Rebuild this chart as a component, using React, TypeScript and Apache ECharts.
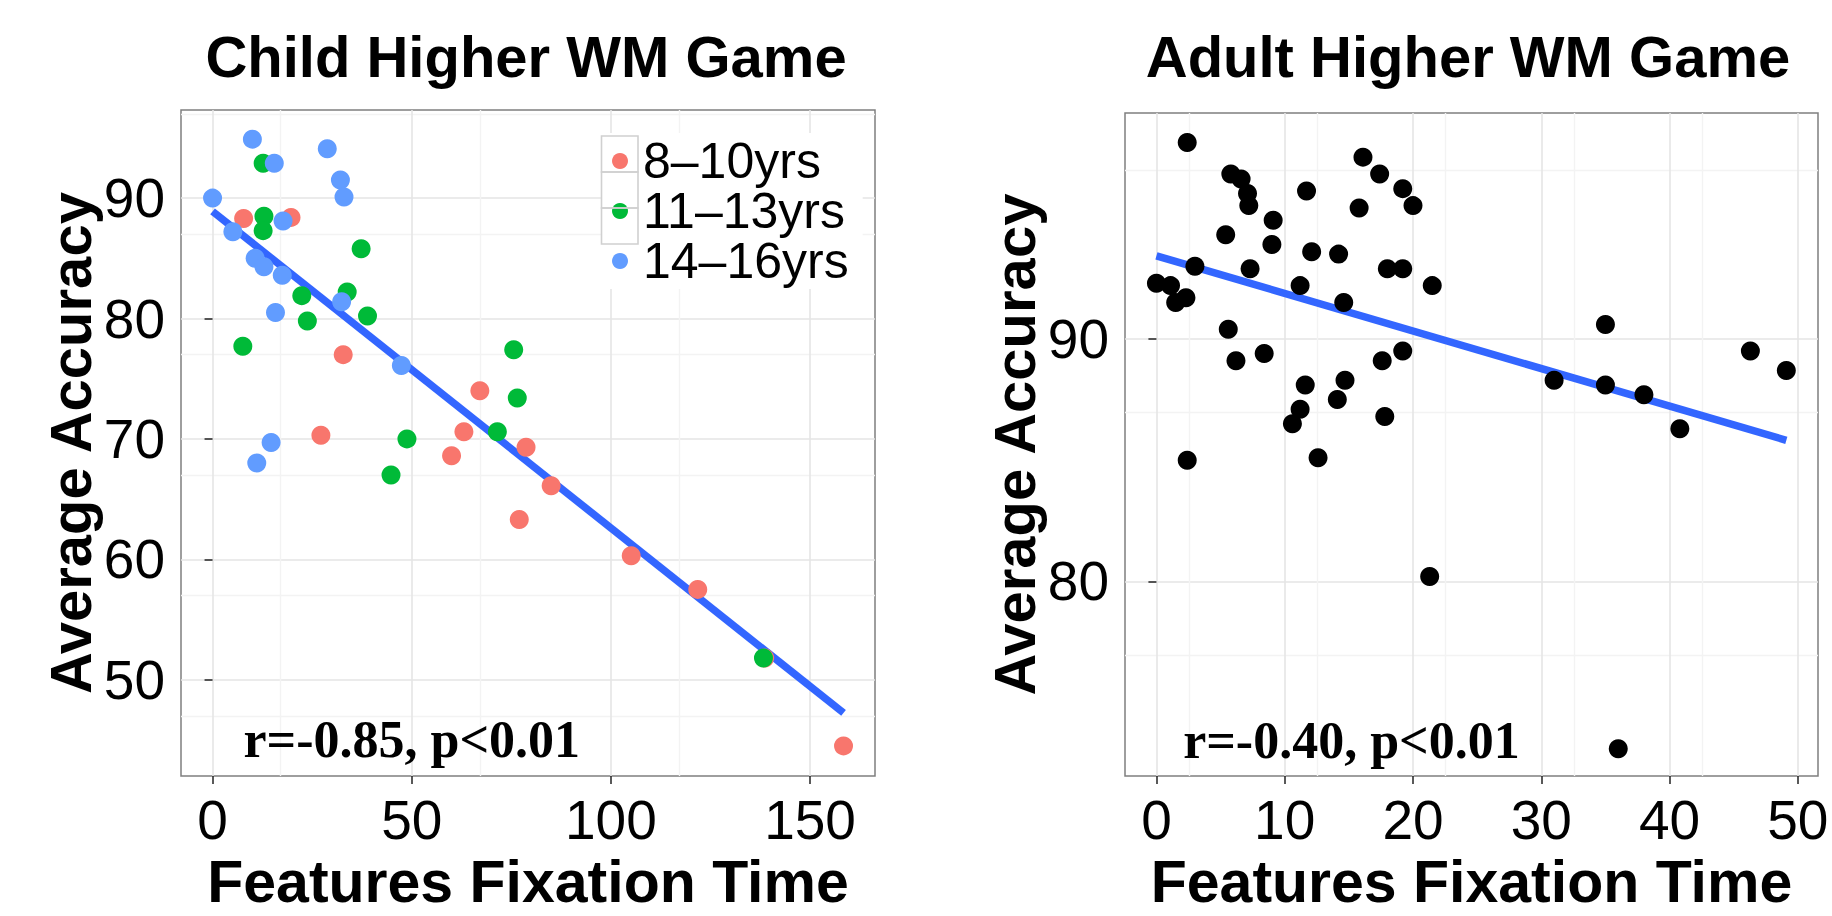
import React, { useEffect, useRef } from "react";
import * as echarts from "echarts";

// ---------- Child Higher WM Game ----------
const ageGroups = ["8–10yrs", "11–13yrs", "14–16yrs"];
const groupColors = ["#F8766D", "#00BA38", "#619CFF"];

const redX = [7.8, 19.7, 27.2, 32.8, 60.0, 63.1, 67.1, 77.0, 78.7, 85.0, 105.1, 121.8, 138.6, 158.4];
const redY = [88.3, 88.4, 70.3, 77.0, 68.6, 70.6, 74.0, 63.3, 69.3, 66.1, 60.3, 57.5, 51.8, 44.5];

const greenX = [12.7, 12.9, 12.7, 37.3, 33.8, 22.4, 23.8, 38.9, 7.6, 75.6, 76.5, 48.8, 71.5, 44.8, 138.3];
const greenY = [92.9, 88.5, 87.3, 85.8, 82.2, 81.9, 79.8, 80.2, 77.7, 77.4, 73.4, 70.0, 70.6, 67.0, 51.8];

const blueX = [10.0, 15.5, 28.8, 32.1, 33.0, 0.0, 17.7, 5.1, 10.7, 12.9, 17.5, 32.4, 15.8, 47.4, 14.7, 11.1];
const blueY = [94.9, 92.9, 94.1, 91.5, 90.1, 90.0, 88.1, 87.2, 85.0, 84.3, 83.6, 81.4, 80.5, 76.1, 69.7, 68.0];

const childFitX = [0, 158.4];
const childFitY = [88.9, 47.24];

const childXTicks = [0, 50, 100, 150];
const childYTicks = [50, 60, 70, 80, 90];
const childAnnot = { text: "r=-0.85, p<0.01", x: 50, y: 45.05 };

// ---------- Adult Higher WM Game ----------
const adultX = [
  2.4, 5.8, 6.6, 7.1, 7.2, 11.7, 16.1, 17.4, 19.2, 20.0,
  15.8, 9.1, 5.4, 9.0, 12.1, 14.2, 3.0, 7.3, 18.0, 19.2,
  0.0, 1.1, 11.2, 21.5, 1.5, 2.3, 14.6, 5.6, 6.2, 8.4,
  17.6, 19.2, 11.6, 14.7, 14.1, 11.2, 10.6, 17.8, 2.4, 12.6,
  35.0, 31.0, 35.0, 38.0, 40.8, 46.3, 49.1, 21.3, 36.0,
];
const adultY = [
  98.1, 96.8, 96.6, 96.0, 95.5, 96.1, 97.5, 96.8, 96.2, 95.5,
  95.4, 94.9, 94.3, 93.9, 93.6, 93.5, 93.0, 92.9, 92.9, 92.9,
  92.3, 92.2, 92.2, 92.2, 91.5, 91.7, 91.5, 90.4, 89.1, 89.4,
  89.1, 89.5, 88.1, 88.3, 87.5, 87.1, 86.5, 86.8, 85.0, 85.1,
  90.6, 88.3, 88.1, 87.7, 86.3, 89.5, 88.7, 80.2, 73.1,
];
const adultFitX = [0, 49.1];
const adultFitY = [93.43, 85.82];

const adultXTicks = [0, 10, 20, 30, 40, 50];
const adultYTicks = [80, 90];
const adultAnnot = { text: "r=-0.40, p<0.01", x: 15.2, y: 73.45 };

const titles = ["Child Higher WM Game", "Adult Higher WM Game"];
const xTitle = "Features Fixation Time";
const yTitle = "Average Accuracy";

const zip = (xs: number[], ys: number[]) => xs.map((x, i) => [x, ys[i]]);

const SANS = "'Liberation Sans', Arial, Helvetica, sans-serif";
const SERIF = "'Liberation Serif', 'Times New Roman', serif";

function makeXAxis(gridIndex: number, min: number, max: number, interval: number, ticks: number[]) {
  return {
    type: "value",
    gridIndex,
    min,
    max,
    interval,
    name: xTitle,
    nameLocation: "middle",
    nameGap: 65,
    nameTextStyle: { fontFamily: SANS, fontWeight: "bold", fontSize: 59, color: "#000" },
    axisLine: { show: false },
    axisTick: { show: true, length: 8, customValues: ticks, lineStyle: { color: "#222", width: 1.5 } },
    axisLabel: { show: true, customValues: ticks, margin: 16, fontFamily: SANS, fontSize: 55, color: "#000" },
    splitLine: { show: true, lineStyle: { color: "#e5e5e5", width: 1.6 } },
    minorTick: { show: false, splitNumber: 2 },
    minorSplitLine: { show: true, lineStyle: { color: "#f3f3f3", width: 1.4 } },
  };
}

function makeYAxis(gridIndex: number, min: number, max: number, interval: number, ticks: number[]) {
  return {
    type: "value",
    gridIndex,
    min,
    max,
    interval,
    name: yTitle,
    nameLocation: "middle",
    nameGap: 78,
    nameTextStyle: { fontFamily: SANS, fontWeight: "bold", fontSize: 58, color: "#000" },
    axisLine: { show: false },
    axisTick: { show: true, length: 8, customValues: ticks, lineStyle: { color: "#222", width: 1.5 } },
    axisLabel: { show: true, customValues: ticks, margin: 16, fontFamily: SANS, fontSize: 55, color: "#000" },
    splitLine: { show: true, lineStyle: { color: "#e5e5e5", width: 1.6 } },
    minorTick: { show: false, splitNumber: 2 },
    minorSplitLine: { show: true, lineStyle: { color: "#f3f3f3", width: 1.4 } },
  };
}

function annotSeries(a: { text: string; x: number; y: number }, idx: number) {
  return {
    type: "scatter",
    name: "annot" + idx,
    xAxisIndex: idx,
    yAxisIndex: idx,
    data: [[a.x, a.y]],
    symbol: "circle",
    symbolSize: 0,
    silent: true,
    itemStyle: { color: "#000" },
    label: {
      show: true,
      position: "inside",
      formatter: a.text,
      fontFamily: SERIF,
      fontWeight: "bold",
      fontSize: 52,
      color: "#000",
      textBorderWidth: 0,
      opacity: 1,
    },
    z: 3,
  };
}

export default function App() {
  const ref = useRef<HTMLDivElement>(null);
  useEffect(() => {
    if (!ref.current) return;
    const chart = echarts.init(ref.current, undefined, { renderer: "svg" });
    const childSets = [zip(redX, redY), zip(greenX, greenY), zip(blueX, blueY)];
    const titleStyle = { fontFamily: SANS, fontWeight: "bold", fontSize: 58, color: "#000" };
    const option: any = {
      animation: false,
      backgroundColor: "#fff",
      title: [
        { text: titles[0], left: 526, top: 56, padding: 0, textAlign: "center", textVerticalAlign: "middle", textStyle: titleStyle },
        { text: titles[1], left: 1468, top: 56, padding: 0, textAlign: "center", textVerticalAlign: "middle", textStyle: titleStyle },
      ],
      grid: [
        { left: 181, top: 110, width: 694, height: 693, show: true, borderColor: "#7f7f7f", borderWidth: 1.5, backgroundColor: "#fff", containLabel: false },
        { left: 1125, top: 113, width: 693, height: 691, show: true, borderColor: "#7f7f7f", borderWidth: 1.5, backgroundColor: "#fff", containLabel: false },
      ],
      xAxis: [
        makeXAxis(0, -7.92, 166.3, 50, childXTicks),
        makeXAxis(1, -2.45, 51.57, 10, adultXTicks),
      ],
      yAxis: [
        makeYAxis(0, 41.99, 97.32, 10, childYTicks),
        makeYAxis(1, 71.97, 99.32, 10, adultYTicks),
      ],
      legend: {
        data: ageGroups,
        orient: "vertical",
        left: 601,
        top: 133,
        padding: [3, 14, 3, 11],
        itemGap: 0,
        itemWidth: 16,
        itemHeight: 16,
        icon: "circle",
        backgroundColor: "#fff",
        textStyle: { fontFamily: SANS, fontSize: 50, lineHeight: 36, color: "#000", padding: [0, 0, 0, 10] },
        selectedMode: false,
      },
      graphic: [0, 1, 2].map((i) => ({
        type: "rect",
        z: 10,
        silent: true,
        shape: { x: 601.5, y: 136 + 36 * i, width: 36.5, height: 36 },
        style: { fill: "none", stroke: "#d0d0d0", lineWidth: 1.6 },
      })),
      series: [
        {
          type: "line",
          name: "fitChild",
          xAxisIndex: 0,
          yAxisIndex: 0,
          data: zip(childFitX, childFitY),
          symbol: "none",
          lineStyle: { color: "#3366FF", width: 7.5, cap: "butt" },
          z: 1,
          silent: true,
        },
        ...childSets.map((d, i) => ({
          type: "scatter",
          name: ageGroups[i],
          xAxisIndex: 0,
          yAxisIndex: 0,
          data: d,
          symbol: "circle",
          symbolSize: 19,
          itemStyle: { color: groupColors[i], opacity: 1 },
          z: 2,
        })),
        annotSeries(childAnnot, 0),
        {
          type: "line",
          name: "fitAdult",
          xAxisIndex: 1,
          yAxisIndex: 1,
          data: zip(adultFitX, adultFitY),
          symbol: "none",
          lineStyle: { color: "#3366FF", width: 7.5, cap: "butt" },
          z: 1,
          silent: true,
        },
        {
          type: "scatter",
          name: "adult",
          xAxisIndex: 1,
          yAxisIndex: 1,
          data: zip(adultX, adultY),
          symbol: "circle",
          symbolSize: 19,
          itemStyle: { color: "#000", opacity: 1 },
          z: 2,
        },
        annotSeries(adultAnnot, 1),
      ],
    };
    chart.setOption(option);
    return () => chart.dispose();
  }, []);
  return (
    <div
      ref={ref}
      style={{ position: "fixed", left: 0, top: 0, width: 1832, height: 916, background: "#fff" }}
    />
  );
}
